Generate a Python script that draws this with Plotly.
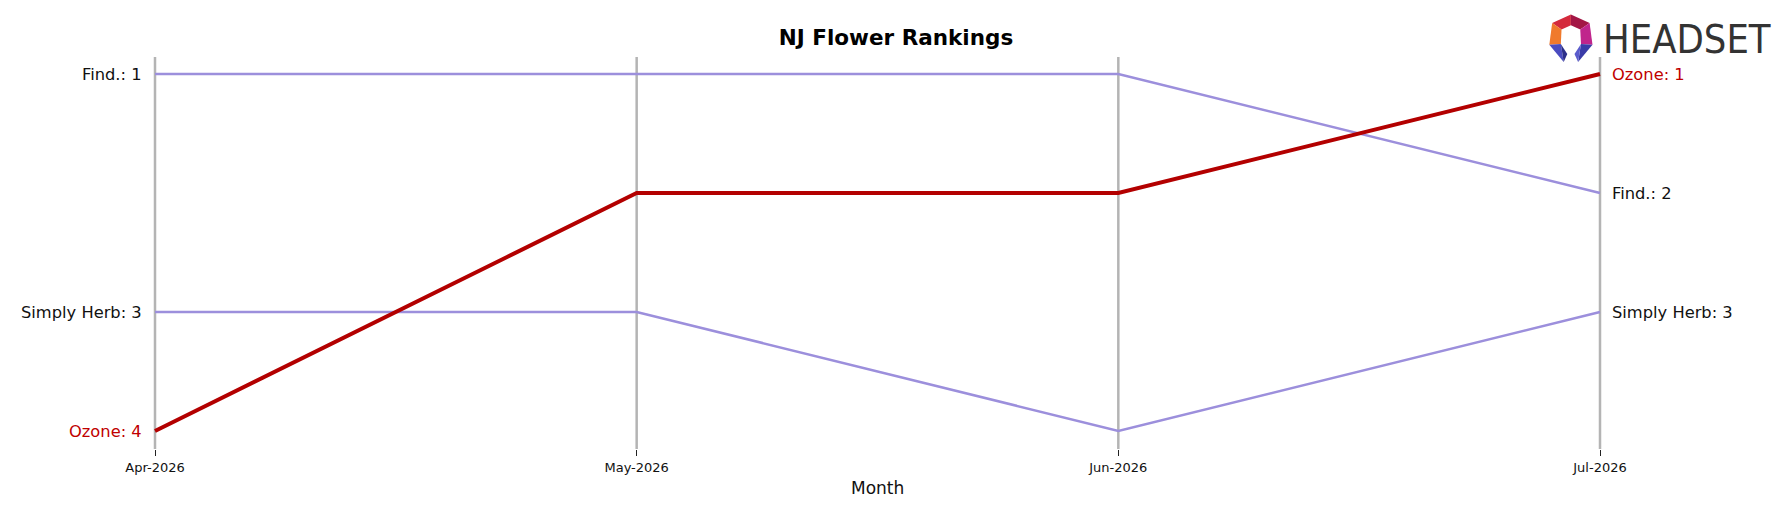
import plotly.graph_objects as go

# ---- data ----
months = ["Apr-2026", "May-2026", "Jun-2026", "Jul-2026"]
brands = ["Find.", "Simply Herb", "Ozone"]
find_ranks = [1, 1, 1, 2]
simply_herb_ranks = [3, 3, 4, 3]
ozone_ranks = [4, 2, 2, 1]

series = [
    ("Find.", find_ranks),
    ("Simply Herb", simply_herb_ranks),
    ("Ozone", ozone_ranks),
]
highlight = "Ozone"

# ---- layout geometry (page pixels; page body has an 8px offset) ----
OX, OY = 8, 8
WIDTH, HEIGHT = 1784 - OX, 507 - OY
L = 145 - OX
T = 57 - OY
PW = (1610 - OX) - L
PH = (449 - OY) - T
R = WIDTH - L - PW
B = HEIGHT - T - PH


def px(x):
    return (x - OX - L) / PW


def py(y):
    return 1 - (y - OY - T) / PH


RED = "#b30000"
PURPLE = "#9c8fdc"
FONT = "DejaVu Sans, Verdana, sans-serif"

xs = list(range(len(months)))
fig = go.Figure()

for name, ranks in series:
    if name == highlight:
        continue
    fig.add_trace(go.Scatter(x=xs, y=ranks, mode="lines", name=name,
                             line=dict(color=PURPLE, width=2.6),
                             hoverinfo="skip", showlegend=False))
for name, ranks in series:
    if name != highlight:
        continue
    fig.add_trace(go.Scatter(x=xs, y=ranks, mode="lines", name=name,
                             line=dict(color=RED, width=4),
                             hoverinfo="skip", showlegend=False))

annotations = []
for name, ranks in series:
    col = "#c00000" if name == highlight else "#111111"
    annotations.append(dict(x=xs[0], y=ranks[0], xref="x", yref="y",
                            text=f"{name}: {ranks[0]}", showarrow=False,
                            xanchor="right", yanchor="middle", xshift=-11,
                            font=dict(family=FONT, size=16.3, color=col)))
    annotations.append(dict(x=xs[-1], y=ranks[-1], xref="x", yref="y",
                            text=f"{name}: {ranks[-1]}", showarrow=False,
                            xanchor="left", yanchor="middle", xshift=10,
                            font=dict(family=FONT, size=16.3, color=col)))

# x axis title
annotations.append(dict(x=0.5, y=py(488), xref="paper", yref="paper",
                        text="Month", showarrow=False, xanchor="center",
                        yanchor="middle",
                        font=dict(family=FONT, size=17, color="#111111")))

# logo text
annotations.append(dict(x=px(1601), y=py(38.5), xref="paper", yref="paper",
                        text='<span style="font-stretch:condensed">HEADSET</span>',
                        showarrow=False, xanchor="left", yanchor="middle",
                        font=dict(family="DejaVu Sans, sans-serif",
                                  size=39.5, color="#333333")))

shapes = []
for x in xs:
    shapes.append(dict(type="line", xref="x", yref="paper", x0=x, x1=x,
                       y0=0, y1=1, layer="below",
                       line=dict(color="#b4b4b4", width=2.5)))


# logo icon polygons (zoom coords -> page pixels)
def zp(zx, zy):
    return 1538.5 + zx / 3 * 1.08, 8 + zy / 3 * 1.08


def poly(points, color):
    pts = [zp(*p) for p in points]
    d = "M " + " L ".join(f"{px(a):.5f},{py(b):.5f}" for a, b in pts) + " Z"
    return dict(type="path", xref="paper", yref="paper", path=d,
                fillcolor=color, line=dict(width=0), layer="above")


icon = [
    ([(38, 42), (90, 18), (90, 48), (64, 60)], "#d42a3c"),
    ([(90, 18), (142, 42), (116, 60), (90, 48)], "#a31645"),
    ([(38, 42), (64, 60), (62, 100), (30, 102)], "#f07a2c"),
    ([(142, 42), (150, 102), (118, 100), (116, 60)], "#c0258c"),
    ([(30, 102), (62, 100), (70, 150)], "#4a4cc0"),
    ([(62, 100), (80, 128), (70, 150)], "#2c2f8a"),
    ([(150, 102), (118, 100), (110, 150)], "#3a3ca8"),
    ([(118, 100), (100, 128), (110, 150)], "#5a5ccc"),
]
for pts, col in icon:
    shapes.append(poly(pts, col))

unit = (1600 - 155) / 3.0
x_pad_left = (155 - (L + OX)) / unit
x_pad_right = ((L + OX + PW) - 1600) / unit
unit_y = (431 - 74) / 3.0
y_top = 1 - (74 - (T + OY)) / unit_y
y_bot = 4 + ((T + OY + PH) - 431) / unit_y

fig.update_layout(
    width=WIDTH, height=HEIGHT,
    margin=dict(l=L, r=R, t=T, b=B, pad=0),
    paper_bgcolor="white", plot_bgcolor="white",
    title=dict(text="<b>NJ Flower Rankings</b>", x=px(877.5), xanchor="center",
               y=1 - (37.5 - OY) / HEIGHT, yanchor="middle",
               font=dict(family=FONT, size=21.5, color="#000000")),
    xaxis=dict(range=[-x_pad_left, 3 + x_pad_right], tickvals=xs,
               ticktext=months, ticks="outside", ticklen=6, tickwidth=1,
               tickcolor="#222222", showgrid=False, zeroline=False,
               showline=False, fixedrange=True,
               tickfont=dict(family=FONT, size=13, color="#111111")),
    yaxis=dict(range=[y_bot, y_top], visible=False, showgrid=False,
               zeroline=False, fixedrange=True),
    annotations=annotations,
    shapes=shapes,
    showlegend=False,
)

fig.write_html("out.html")
